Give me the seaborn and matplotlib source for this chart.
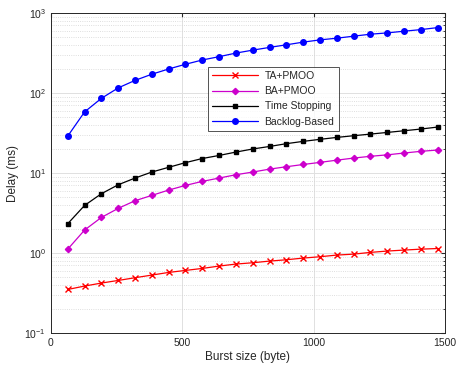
import numpy as np
import pandas as pd
import seaborn as sns
import matplotlib.pyplot as plt
from matplotlib.ticker import LogLocator, NullFormatter

burst = [64, 128, 192, 256, 320, 384, 448, 512, 576, 640, 704, 768,
         832, 896, 960, 1024, 1088, 1152, 1216, 1280, 1344, 1408, 1472]

ta_pmoo = [0.351, 0.387, 0.422, 0.455, 0.492, 0.531, 0.573, 0.607, 0.643,
           0.688, 0.729, 0.757, 0.794, 0.825, 0.866, 0.90, 0.944, 0.97,
           1.02, 1.06, 1.09, 1.12, 1.14]
ba_pmoo = [1.12, 1.94, 2.79, 3.62, 4.51, 5.26, 6.13, 7.01, 7.87, 8.66,
           9.53, 10.3, 11.2, 12.0, 12.8, 13.6, 14.5, 15.4, 16.2, 16.9,
           17.8, 18.7, 19.4]
time_stop = [2.33, 3.94, 5.52, 7.14, 8.66, 10.3, 11.8, 13.5, 15.2, 16.6,
             18.3, 20.0, 21.5, 23.3, 24.9, 26.4, 27.9, 29.3, 30.7, 32.2,
             33.8, 35.5, 37.6]
backlog = [29.0, 58.1, 85.9, 116, 144, 172, 200, 229, 259, 285, 316, 344,
           372, 401, 433, 462, 485, 514, 544, 565, 593, 621, 658]

series_names = ['TA+PMOO', 'BA+PMOO', 'Time Stopping', 'Backlog-Based']
series_vals = [ta_pmoo, ba_pmoo, time_stop, backlog]
colors = ['#ff0000', '#cc00cc', '#000000', '#0000ff']
markers = ['x', 'D', 's', 'o']
msizes = [5, 3.2, 3.5, 4]

sns.set_style('white')
plt.rcParams['font.family'] = ['Liberation Sans', 'DejaVu Sans']

fig = plt.figure(figsize=(4.59, 3.73), dpi=100)
ax = fig.add_axes([0.111, 0.107, 0.8585, 0.858])

for name, vals, c, m, ms in zip(series_names, series_vals, colors, markers, msizes):
    df = pd.DataFrame({'Burst': burst, 'Delay': vals})
    sns.lineplot(data=df, x='Burst', y='Delay', ax=ax, color=c, marker=m,
                 markersize=ms, markeredgecolor=c, markeredgewidth=1.0,
                 linewidth=0.9, label=name)

ax.set_yscale('log')
ax.set_xlim(0, 1500)
ax.set_ylim(0.1, 1000)
ax.set_xticks([0, 500, 1000, 1500])
ax.yaxis.set_major_locator(LogLocator(base=10, numticks=10))
ax.yaxis.set_minor_locator(LogLocator(base=10, subs=np.arange(2, 10), numticks=20))
ax.yaxis.set_minor_formatter(NullFormatter())

ax.grid(True, which='major', color='#e0e0e0', linewidth=0.7, linestyle='-')
ax.grid(True, which='minor', axis='y', color='#d4d4d4', linewidth=0.6, linestyle=':')
ax.set_axisbelow(True)

ax.tick_params(which='both', direction='in', top=True, right=True,
               labelsize=7.5, colors='#262626')
ax.tick_params(which='major', length=3)
ax.tick_params(which='minor', length=1.5)
for s in ax.spines.values():
    s.set_color('#262626')
    s.set_linewidth(0.7)

ax.set_xlabel('Burst size (byte)', fontsize=8.5, color='#262626', labelpad=2)
ax.set_ylabel('Delay (ms)', fontsize=8.5, color='#262626', labelpad=4)

leg = ax.legend(loc='upper left', bbox_to_anchor=(0.386, 0.848), fontsize=7.5,
                frameon=True, fancybox=False, edgecolor='#262626',
                handlelength=4.4, borderpad=0.4, labelspacing=0.5,
                handletextpad=0.6)
leg.get_frame().set_linewidth(0.7)

fig.savefig('out.png', dpi=100)
